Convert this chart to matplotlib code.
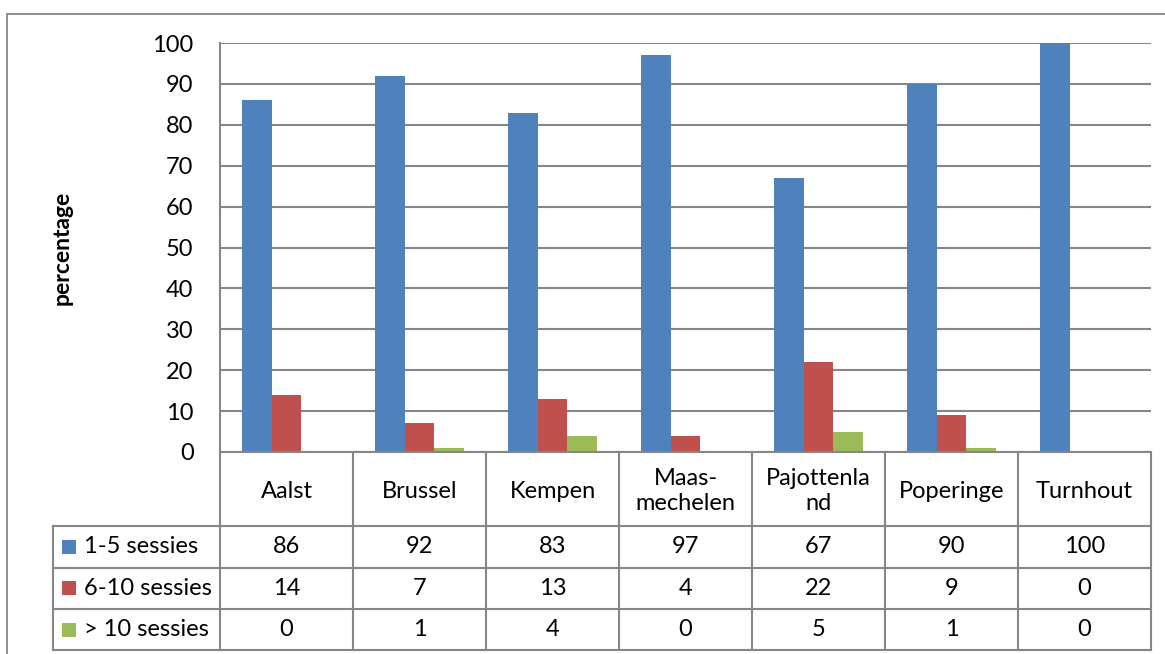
import matplotlib
matplotlib.use("Agg")
import matplotlib.pyplot as plt
from matplotlib.patches import Rectangle
from matplotlib.lines import Line2D

plt.rcParams['font.family'] = ['Lato', 'DejaVu Sans']

categories = ["Aalst", "Brussel", "Kempen", "Maas-\nmechelen", "Pajottenla\nnd", "Poperinge", "Turnhout"]
series_names = ["1-5 sessies", "6-10 sessies", "> 10 sessies"]
s1_5 = [86, 92, 83, 97, 67, 90, 100]
s6_10 = [14, 7, 13, 4, 22, 9, 0]
s10_plus = [0, 1, 4, 0, 5, 1, 0]
yticks = [0, 10, 20, 30, 40, 50, 60, 70, 80, 90, 100]
colors = ["#4F81BD", "#C0504D", "#9BBB59"]

W, H = 1165, 654
fig = plt.figure(figsize=(W / 100, H / 100), dpi=100)
grid_col = "#868686"
fs = 17

def fx(px):
    return px / W

def fy(py):
    return 1 - py / H

# outer chart frame
fig.add_artist(Rectangle((fx(7), fy(700)), fx(1200), fy(14) - fy(700),
                         transform=fig.transFigure, fill=False,
                         edgecolor=grid_col, linewidth=1.3))

# plot area
left, right, top, bottom = 220, 1151, 43, 452
ax = fig.add_axes([fx(left), fy(bottom), fx(right - left), fy(top) - fy(bottom)])
n = len(categories)
ax.set_xlim(-0.5, n - 0.5)
ax.set_ylim(0, 100)
bw = 0.222
series = [s1_5, s6_10, s10_plus]
xs = list(range(n))
for k, (vals, c) in enumerate(zip(series, colors)):
    ax.bar([x + (k - 1) * bw for x in xs], vals, width=bw, color=c,
           edgecolor="none", zorder=3)
ax.set_yticks(yticks)
ax.set_yticklabels([str(t) for t in yticks], fontsize=fs)
ax.tick_params(axis="y", length=0, pad=19)
ax.tick_params(axis="x", length=0, labelbottom=False)
ax.yaxis.grid(True, color=grid_col, linewidth=1.5, zorder=0)
ax.set_axisbelow(True)
for s in ["top", "right", "bottom"]:
    ax.spines[s].set_visible(False)
ax.spines["left"].set_color(grid_col)
ax.spines["left"].set_linewidth(1.5)

fig.text(fx(62), fy(248), "percentage", rotation=90, ha="center", va="center",
         fontsize=16.5, fontweight="bold")

# data table below the plot area
col_w = (right - left) / n
tleft = 53
rows_y = [452, 526, 567.5, 609, 650]

line_kw = dict(color=grid_col, linewidth=1.5, transform=fig.transFigure)
# horizontal lines
fig.add_artist(Line2D([fx(left), fx(right)], [fy(rows_y[0])] * 2, **line_kw))
for yy in rows_y[1:]:
    fig.add_artist(Line2D([fx(tleft), fx(right)], [fy(yy)] * 2, **line_kw))
# vertical lines
fig.add_artist(Line2D([fx(tleft)] * 2, [fy(rows_y[1]), fy(rows_y[-1])], **line_kw))
for i in range(n + 1):
    xp = left + i * col_w
    fig.add_artist(Line2D([fx(xp)] * 2, [fy(rows_y[0]), fy(rows_y[-1])], **line_kw))

# category header row
for i, name in enumerate(categories):
    xc = left + (i + 0.5) * col_w
    fig.text(fx(xc), fy((rows_y[0] + rows_y[1]) / 2 + 2), name, ha="center",
             va="center", fontsize=fs, linespacing=1.2)

# value rows with legend keys
for r, (vals, c, label) in enumerate(zip(series, colors, series_names)):
    yc = (rows_y[r + 1] + rows_y[r + 2]) / 2
    fig.add_artist(Rectangle((fx(62), fy(yc + 7)), fx(14), fy(yc - 7) - fy(yc + 7),
                             transform=fig.transFigure, facecolor=c, edgecolor="none"))
    fig.text(fx(84), fy(yc), label, ha="left", va="center", fontsize=fs)
    for i, v in enumerate(vals):
        xc = left + (i + 0.5) * col_w
        fig.text(fx(xc), fy(yc), str(v), ha="center", va="center", fontsize=fs)

fig.savefig("out.png", dpi=100, facecolor="white")
